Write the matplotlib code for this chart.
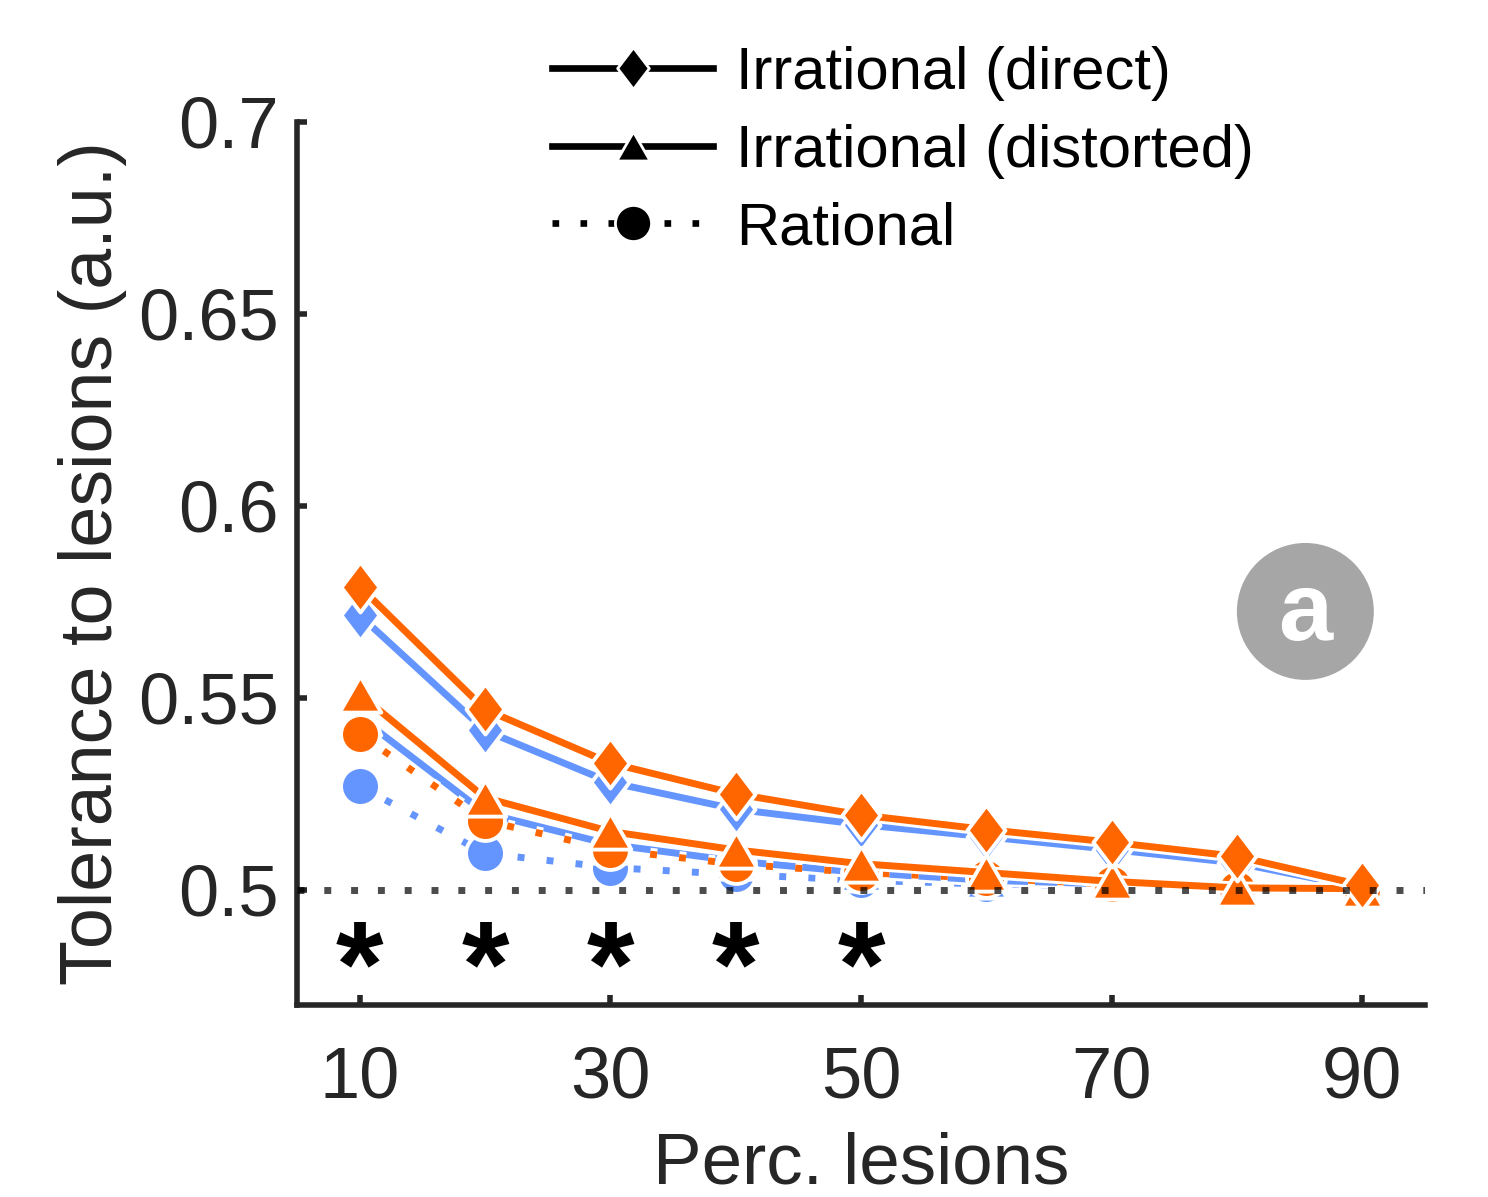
import matplotlib
matplotlib.use('Agg')
import matplotlib.pyplot as plt
import matplotlib.patheffects as pe
from matplotlib.lines import Line2D

plt.rcParams['font.family'] = ['Liberation Sans', 'DejaVu Sans']

# percentage of lesioned units
lesions = [10, 20, 30, 40, 50, 60, 70, 80, 90]

# tolerance to lesions, orange group
direct_orange = [0.579, 0.547, 0.533, 0.525, 0.5195, 0.5157, 0.5124, 0.5087, 0.5012]
distorted_orange = [0.551, 0.524, 0.5152, 0.5104, 0.5068, 0.5045, 0.5022, 0.5005, 0.5003]
rational_orange = [0.5405, 0.518, 0.5105, 0.5067, 0.5045, 0.503, 0.5015, 0.5003, 0.5]

# tolerance to lesions, blue group
direct_blue = [0.5715, 0.5415, 0.528, 0.521, 0.517, 0.5138, 0.5105, 0.507, 0.5005]
distorted_blue = [0.545, 0.520, 0.5118, 0.5075, 0.5045, 0.5025, 0.5015, 0.5008, 0.5002]
rational_blue = [0.527, 0.5095, 0.5058, 0.504, 0.5025, 0.5015, 0.501, 0.5005, 0.5]

chance = 0.5
signif_at = [10, 20, 30, 40, 50]

xticks = [10, 30, 50, 70, 90]
yticks = [0.5, 0.55, 0.6, 0.65, 0.7]
ytick_labels = ['0.5', '0.55', '0.6', '0.65', '0.7']

series_names = ['Irrational (direct)', 'Irrational (distorted)', 'Rational']

ORANGE = '#FF6600'
BLUE = '#6495FF'
INK = '#262626'

diamond = [(0, 1), (0.76, 0), (0, -1), (-0.76, 0), (0, 1)]
triangle = [(0, 0.5), (0.575, -0.5), (-0.575, -0.5), (0, 0.5)]
DOTS = (0, (1, 3.2))

fig = plt.figure(figsize=(7.44, 5.985), dpi=200)
ax = fig.add_axes([0.1996, 0.1604, 0.758, 0.7377])

z = [2]


def draw(y, color, marker, ms, ls):
    # line with a white halo, then the markers on top of it
    ax.plot(lesions, y, color=color, lw=2.5, ls=ls, solid_capstyle='butt',
            zorder=z[0],
            path_effects=[pe.Stroke(linewidth=4.6, foreground='white'), pe.Normal()])
    ax.plot(lesions, y, ls='none', marker=marker, ms=ms, mfc=color,
            mec='white', mew=1.4, zorder=z[0] + 0.5)
    z[0] += 1


for col, d, t, r in [(BLUE, direct_blue, distorted_blue, rational_blue),
                     (ORANGE, direct_orange, distorted_orange, rational_orange)]:
    draw(r, col, 'o', 14, DOTS)
    draw(t, col, triangle, 15, '-')
    draw(d, col, diamond, 18, '-')

ax.axhline(chance, color='black', alpha=0.7, lw=2.5, ls=(0, (1, 2.86)), zorder=20)

for x in signif_at:
    ax.text(x, 0.4698, '*', ha='center', va='baseline', fontsize=44,
            fontweight='bold', color='black')

# panel badge
ax.scatter([0.894], [0.4457], s=49.3 ** 2, c='#a6a6a6', edgecolors='none',
           transform=ax.transAxes, clip_on=False, zorder=1)
ax.text(0.894, 0.4134, 'a', transform=ax.transAxes, ha='center', va='baseline',
        fontsize=35, fontweight='bold', color='white', zorder=1.5)

ax.set_xlim(5, 95)
ax.set_ylim(0.47, 0.7)
ax.set_xticks(xticks)
ax.set_xticklabels([str(v) for v in xticks])
ax.set_yticks(yticks)
ax.set_yticklabels(ytick_labels)

for s in ['top', 'right']:
    ax.spines[s].set_visible(False)
for s in ['left', 'bottom']:
    ax.spines[s].set_linewidth(2)
    ax.spines[s].set_color(INK)

ax.tick_params(direction='in', length=3.6, width=2, color=INK,
               labelsize=26, labelcolor=INK)
ax.tick_params(axis='x', pad=14.5)
ax.tick_params(axis='y', pad=6.5)

ax.set_xlabel('Perc. lesions', fontsize=26.2, color=INK, labelpad=7)
ax.set_ylabel('Tolerance to lesions (a.u.)', fontsize=26.5, color=INK, labelpad=4)

handles = [
    Line2D([], [], color='black', lw=2.4, marker=diamond, ms=15,
           mfc='black', mec='white', mew=1.0),
    Line2D([], [], color='black', lw=2.4, marker=triangle, ms=12,
           mfc='black', mec='white', mew=1.0),
    Line2D([], [], color='black', lw=2.4, ls=DOTS, marker='o', ms=13,
           mfc='black', mec='white', mew=1.0),
]
fig.legend(handles, series_names, loc='upper left',
           bbox_to_anchor=(552 / 1488, 1 - 46 / 1197),
           frameon=False, fontsize=21.5, borderpad=0, borderaxespad=0,
           handlelength=2.7, handletextpad=0.38, labelspacing=0.38)

fig.savefig('out.png', dpi=200)
